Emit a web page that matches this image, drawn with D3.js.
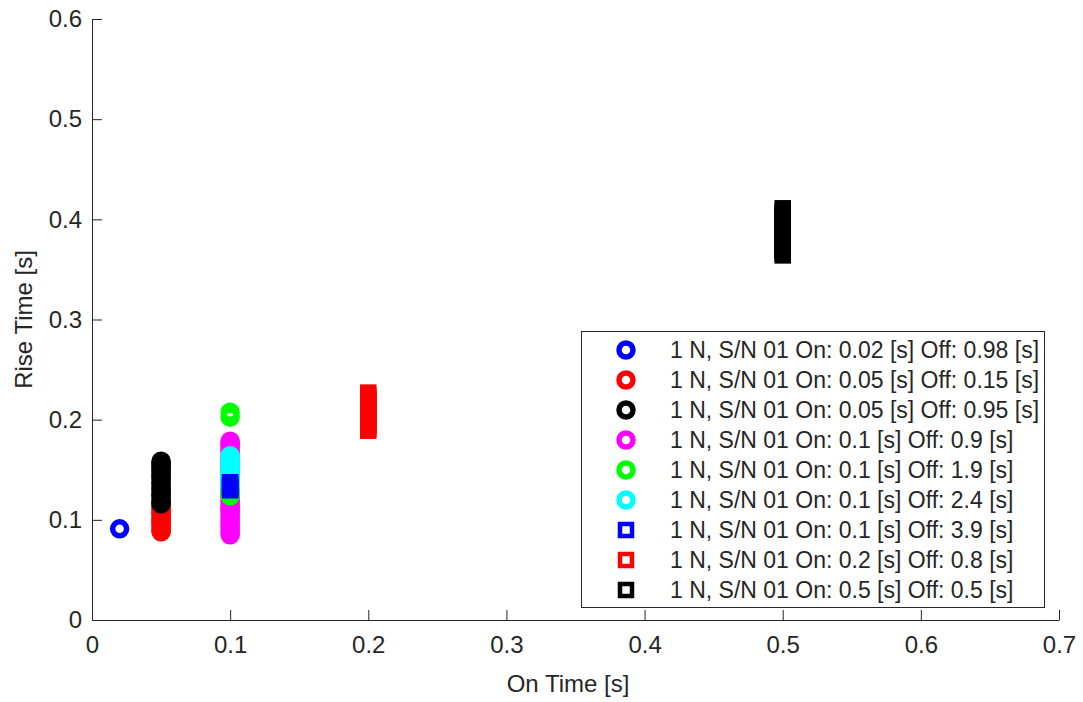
<!DOCTYPE html>
<html>
<head>
<meta charset="utf-8">
<script src="https://cdn.jsdelivr.net/npm/d3@7"></script>
<style>
  html, body { margin: 0; padding: 0; background: #fff; }
  svg { display: block; font-family: "Liberation Sans", Arial, Helvetica, sans-serif; }
</style>
</head>
<body>
<svg id="chart" width="1083" height="702"></svg>
<script>
// ---------- data ----------
const xTicks = [0, 0.1, 0.2, 0.3, 0.4, 0.5, 0.6, 0.7];
const yTicks = [0, 0.1, 0.2, 0.3, 0.4, 0.5, 0.6];
const xLabel = "On Time [s]";
const yLabel = "Rise Time [s]";

const seriesNames = [
  "1 N, S/N 01 On: 0.02 [s] Off: 0.98 [s]",
  "1 N, S/N 01 On: 0.05 [s] Off: 0.15 [s]",
  "1 N, S/N 01 On: 0.05 [s] Off: 0.95 [s]",
  "1 N, S/N 01 On: 0.1 [s] Off: 0.9 [s]",
  "1 N, S/N 01 On: 0.1 [s] Off: 1.9 [s]",
  "1 N, S/N 01 On: 0.1 [s] Off: 2.4 [s]",
  "1 N, S/N 01 On: 0.1 [s] Off: 3.9 [s]",
  "1 N, S/N 01 On: 0.2 [s] Off: 0.8 [s]",
  "1 N, S/N 01 On: 0.5 [s] Off: 0.5 [s]"
];
const seriesColors = ["#0000ff", "#ff0000", "#000000", "#ff00ff", "#00ff00", "#00ffff", "#0000ff", "#ff0000", "#000000"];
const seriesShapes = ["circle", "circle", "circle", "circle", "circle", "circle", "square", "square", "square"];
const seriesOnTime = [0.02, 0.05, 0.05, 0.1, 0.1, 0.1, 0.1, 0.2, 0.5];

// rise times (estimated) per series
const rise1 = [0.091];
const rise2 = [0.088, 0.089, 0.091, 0.094, 0.095, 0.097, 0.099, 0.100, 0.102, 0.105, 0.106, 0.108, 0.111, 0.113, 0.115, 0.117];
const rise3 = [0.116, 0.118, 0.120, 0.123, 0.125, 0.126, 0.129, 0.131, 0.133, 0.136, 0.137, 0.140, 0.142, 0.144, 0.146, 0.149, 0.151, 0.153, 0.155, 0.157, 0.1585];
const rise4 = [0.085, 0.087, 0.089, 0.092, 0.094, 0.096, 0.098, 0.101, 0.103, 0.105, 0.108, 0.110, 0.112, 0.114, 0.117, 0.119, 0.121, 0.124, 0.126, 0.128, 0.131, 0.133, 0.135, 0.138, 0.140, 0.142, 0.145, 0.147, 0.149, 0.152, 0.154, 0.156, 0.159, 0.161, 0.163, 0.166, 0.168, 0.170, 0.173, 0.175, 0.177, 0.1785];
const rise5 = [0.124, 0.126, 0.128, 0.131, 0.133, 0.136, 0.138, 0.141, 0.143, 0.146, 0.148, 0.2025, 0.2075];
const rise6 = [0.133, 0.135, 0.137, 0.140, 0.142, 0.144, 0.147, 0.149, 0.151, 0.154, 0.156, 0.158, 0.161, 0.163, 0.164];
const rise7 = [0.1295, 0.1305, 0.132, 0.1335, 0.135, 0.1365, 0.1375];
const rise8 = [0.189, 0.191, 0.194, 0.196, 0.198, 0.201, 0.203, 0.205, 0.208, 0.210, 0.212, 0.215, 0.217, 0.219, 0.222, 0.224, 0.227];
const rise9 = [0.364, 0.366, 0.369, 0.371, 0.373, 0.376, 0.378, 0.380, 0.383, 0.385, 0.387, 0.390, 0.392, 0.394, 0.397, 0.399, 0.401, 0.404, 0.406, 0.408, 0.411];
const seriesRise = [rise1, rise2, rise3, rise4, rise5, rise6, rise7, rise8, rise9];

// ---------- layout ----------
const svg = d3.select("#chart");
const axisColor = "#262626";
const plotLeft = 92, plotRight = 1059, plotTop = 19, plotBottom = 620;

const x = d3.scaleLinear().domain([0, 0.7]).range([plotLeft, plotRight]);
const y = d3.scaleLinear().domain([0, 0.6]).range([plotBottom, plotTop]);

const xAxis = d3.axisBottom(x).tickValues(xTicks).tickFormat(d => String(d))
  .tickSizeInner(-10).tickSizeOuter(0).tickPadding(16);
const yAxis = d3.axisLeft(y).tickValues(yTicks).tickFormat(d => String(d))
  .tickSizeInner(-10).tickSizeOuter(0).tickPadding(10);

const gx = svg.append("g").attr("transform", `translate(0,${plotBottom})`).call(xAxis);
const gy = svg.append("g").attr("transform", `translate(${plotLeft},0)`).call(yAxis);
[gx, gy].forEach(g => {
  g.selectAll("path.domain").attr("stroke", axisColor).attr("stroke-width", 1);
  g.selectAll(".tick line").attr("stroke", axisColor).attr("stroke-width", 1);
  g.selectAll(".tick text").attr("fill", axisColor).style("font-size", "24px")
    .style("font-family", '"Liberation Sans", Arial, Helvetica, sans-serif');
});

svg.append("text")
  .attr("x", 568).attr("y", 692)
  .attr("text-anchor", "middle").attr("fill", axisColor)
  .style("font-size", "24px").text(xLabel);

svg.append("text")
  .attr("transform", `translate(32,${(plotTop + plotBottom) / 2}) rotate(-90)`)
  .attr("text-anchor", "middle").attr("fill", axisColor)
  .style("font-size", "24px").text(yLabel);

// ---------- markers ----------
const ringR = 7, ringW = 5.5;
const sqSide = 12, sqW = 4.5;

function drawMarker(g, shape, color, cx, cy) {
  if (shape === "circle") {
    g.append("circle").attr("cx", cx).attr("cy", cy).attr("r", ringR)
      .attr("fill", "none").attr("stroke", color).attr("stroke-width", ringW);
  } else {
    g.append("rect").attr("x", cx - sqSide / 2).attr("y", cy - sqSide / 2)
      .attr("width", sqSide).attr("height", sqSide)
      .attr("fill", "none").attr("stroke", color).attr("stroke-width", sqW);
  }
}

const plotG = svg.append("g");
seriesRise.forEach((vals, i) => {
  const g = plotG.append("g");
  vals.forEach(v => drawMarker(g, seriesShapes[i], seriesColors[i], x(seriesOnTime[i]), y(v)));
});

// ---------- legend ----------
const lg = svg.append("g");
lg.append("rect").attr("x", 581.5).attr("y", 331.5).attr("width", 463).attr("height", 276)
  .attr("fill", "#fff").attr("stroke", axisColor).attr("stroke-width", 1);
seriesNames.forEach((name, i) => {
  const cy = 350 + i * 30;
  drawMarker(lg, seriesShapes[i], seriesColors[i], 626, cy);
  lg.append("text").attr("x", 670).attr("y", cy).attr("dy", "0.35em")
    .attr("fill", axisColor).style("font-size", "23px").text(name);
});
</script>
</body>
</html>
